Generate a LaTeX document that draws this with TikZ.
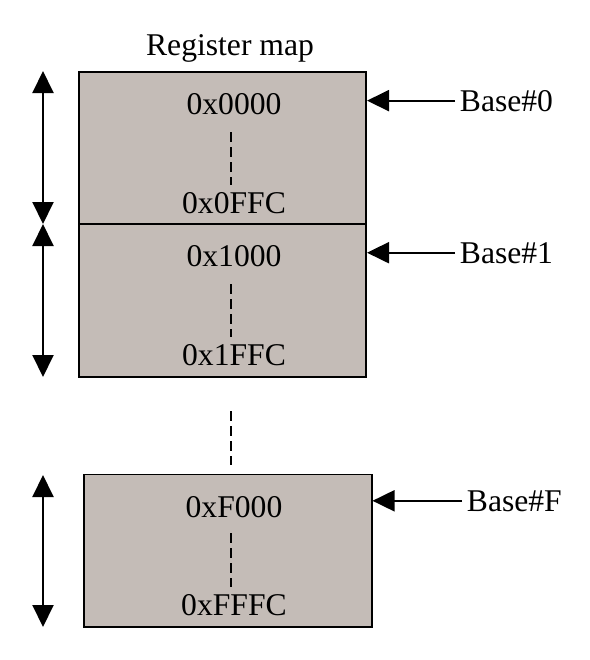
\documentclass[tikz,border=0pt]{standalone}
\usepackage{fontspec}
\setmainfont{Liberation Serif}
\usetikzlibrary{arrows.meta}
\definecolor{regfill}{RGB}{196,188,183}

\begin{document}
\begin{tikzpicture}[x=0.03cm,y=-0.03cm,
	>={Triangle[length=0.66cm,width=0.63cm]},
	every node/.style={font=\fontsize{27}{32}\selectfont},
	regbox/.style={draw,fill=regfill,line width=1.7pt,
		minimum width=8.61cm,minimum height=4.56cm,inner sep=0pt},
	addr/.style={anchor=base,inner sep=0pt},
	basetxt/.style={anchor=base west,inner sep=4pt},
	dots/.style={line width=1.7pt,dash pattern=on 0.3cm off 0.15cm},
	span/.style={<->,line width=1.7pt},
	ptr/.style={->,line width=1.7pt}]
	
	\useasboundingbox (0,0) rectangle (590,660);
	
	% the three register blocks
	\node[regbox] (R0) at (222.5,148) {};
	\node[regbox] (R1) at (222.5,300.5) {};
	\node[regbox] (RF) at (228,550.5) {};
	
	\node[addr] (title) at (230,55) {Register map};
	
	\node[addr] (a00) at (234,114) {0x0000};
	\node[addr] (a0f) at (234,213) {0x0FFC};
	\node[addr] (a10) at (234,266) {0x1000};
	\node[addr] (a1f) at (234,365) {0x1FFC};
	\node[addr] (af0) at (234,517) {0xF000};
	\node[addr] (aff) at (234,615) {0xFFFC};
	
	% base pointers
	\node[basetxt] (B0) at (455,111) {Base\#0};
	\node[basetxt] (B1) at (455,263) {Base\#1};
	\node[basetxt] (BF) at (462,511) {Base\#F};
	
	% ends of the size arrows, left side
	\coordinate (S0a) at (43,71);
	\coordinate (S0b) at (43,224);
	\coordinate (S1a) at (43,224);
	\coordinate (S1b) at (43,377);
	\coordinate (SFa) at (43,475);
	\coordinate (SFb) at (43,627);
	
	% dashed gaps
	\coordinate (D0a) at (231,132);
	\coordinate (D0b) at (231,185);
	\coordinate (D1a) at (231,284);
	\coordinate (D1b) at (231,337);
	\coordinate (DFa) at (231,533);
	\coordinate (DFb) at (231,587);
	\coordinate (Ga) at (231,411);    % between block 1 and block F
	\coordinate (Gb) at (231,465);
	
	\draw[dots] (D0a)--(D0b) (D1a)--(D1b) (DFa)--(DFb) (Ga)--(Gb);
	
	\draw[span] (S0a)--(S0b);
	\draw[span] (S1a)--(S1b);
	\draw[span] (SFa)--(SFb);
	
	\draw[ptr] (B0.west) -- (B0.west -| R0.east);
	\draw[ptr] (B1.west) -- (B1.west -| R1.east);
	\draw[ptr] (BF.west) -- (BF.west -| RF.east);
	
\end{tikzpicture}
\end{document}
